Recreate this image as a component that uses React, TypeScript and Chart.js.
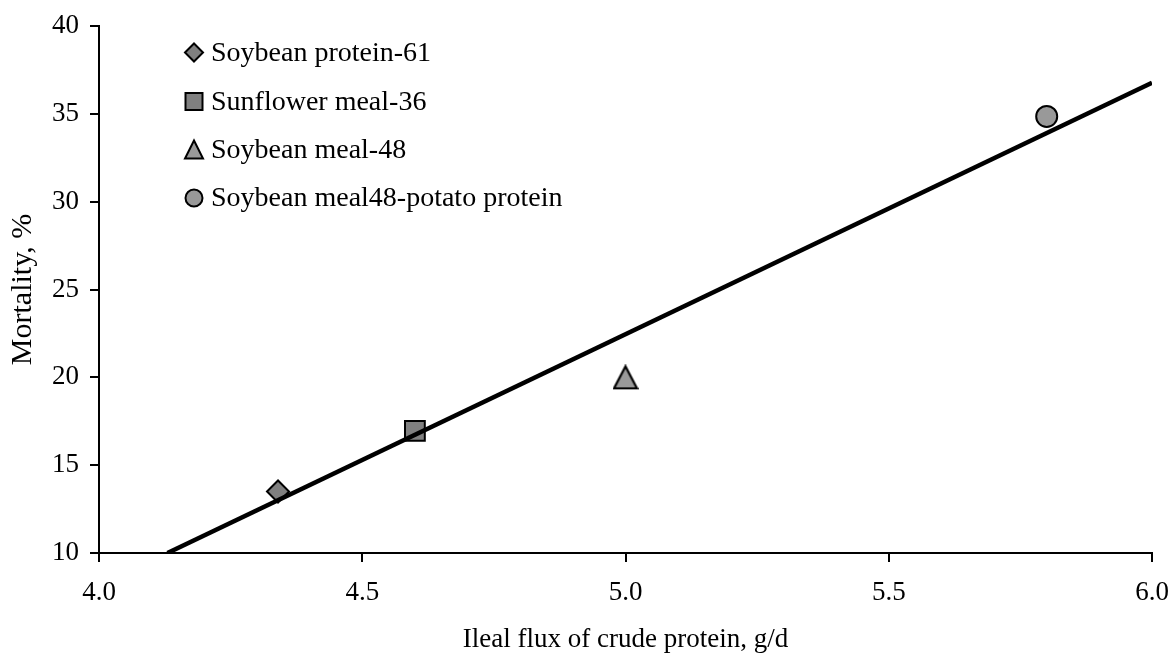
import React, { useEffect, useRef } from 'react';
import { Chart, registerables } from 'chart.js';

Chart.register(...registerables);

// ---- data ----
const seriesNames = [
  'Soybean protein-61',
  'Sunflower meal-36',
  'Soybean meal-48',
  'Soybean meal48-potato protein',
];
const seriesX = [4.34, 4.6, 5.0, 5.8];
const seriesY = [13.5, 16.95, 20.0, 34.85];
const seriesShapes = ['rectRot', 'rect', 'triangle', 'circle'];
const seriesFill = ['#808080', '#808080', '#999999', '#999999'];
const seriesRadius = [11, 14, 12, 10.5];

const trendX = [4.13, 6.0];
const trendY = [10, 36.77];

const xTickValues = [4.0, 4.5, 5.0, 5.5, 6.0];
const yTickValues = [10, 15, 20, 25, 30, 35, 40];

const xTitle = 'Ileal flux of crude protein, g/d';
const yTitle = 'Mortality, %';

const FONT = "'Liberation Serif', 'Times New Roman', serif";

function makeTriangle(fill: string) {
  const c = document.createElement('canvas');
  c.width = 26;
  c.height = 26;
  const g = c.getContext('2d')!;
  g.beginPath();
  g.moveTo(13, 2);
  g.lineTo(24.5, 24);
  g.lineTo(1.5, 24);
  g.closePath();
  g.fillStyle = fill;
  g.fill();
  g.lineWidth = 2.2;
  g.lineJoin = 'miter';
  g.strokeStyle = '#000';
  g.stroke();
  return c;
}

const legendPlugin = {
  id: 'innerLegend',
  afterDraw(chart: any) {
    const ctx = chart.ctx as CanvasRenderingContext2D;
    const mx = 194;
    const tx = 211;
    const rows = [52.5, 101.5, 150, 198];
    ctx.save();
    ctx.font = `28px ${FONT}`;
    ctx.textBaseline = 'middle';
    ctx.textAlign = 'left';
    seriesNames.forEach((name, i) => {
      const y = rows[i];
      ctx.beginPath();
      const shape = seriesShapes[i];
      if (shape === 'rectRot') {
        const r = 9;
        ctx.moveTo(mx - r, y);
        ctx.lineTo(mx, y - r);
        ctx.lineTo(mx + r, y);
        ctx.lineTo(mx, y + r);
        ctx.closePath();
      } else if (shape === 'rect') {
        ctx.rect(mx - 8.5, y - 8.5, 17, 17);
      } else if (shape === 'triangle') {
        ctx.moveTo(mx, y - 9.5);
        ctx.lineTo(mx + 9, y + 8.5);
        ctx.lineTo(mx - 9, y + 8.5);
        ctx.closePath();
      } else {
        ctx.arc(mx, y, 8.5, 0, Math.PI * 2);
      }
      ctx.fillStyle = seriesFill[i];
      ctx.fill();
      ctx.lineWidth = 2;
      ctx.strokeStyle = '#000';
      ctx.stroke();
      ctx.fillStyle = '#000';
      ctx.fillText(name, tx, y + 1);
    });
    ctx.restore();
  },
};

export default function App() {
  const ref = useRef<HTMLCanvasElement | null>(null);

  useEffect(() => {
    if (!ref.current) return;
    const datasets: any[] = [
      {
        type: 'line',
        label: 'trend',
        data: trendX.map((x, i) => ({ x, y: trendY[i] })),
        borderColor: '#000',
        borderWidth: 4.5,
        pointRadius: 0,
        showLine: true,
        fill: false,
        order: 0,
      },
    ];
    seriesNames.forEach((name, i) => {
      const shape = seriesShapes[i];
      datasets.push({
        type: 'scatter',
        label: name,
        data: [{ x: seriesX[i], y: seriesY[i] }],
        pointStyle: shape === 'triangle' ? makeTriangle(seriesFill[i]) : shape,
        pointRadius: seriesRadius[i],
        pointBackgroundColor: seriesFill[i],
        pointBorderColor: '#000',
        pointBorderWidth: 2,
        order: 1,
      });
    });

    const chart = new Chart(ref.current, {
      type: 'scatter',
      data: { datasets },
      plugins: [legendPlugin],
      options: {
        animation: false,
        responsive: false,
        maintainAspectRatio: false,
        layout: {
          autoPadding: false,
          padding: { left: 0, top: 26, right: 20, bottom: 0 },
        } as any,
        plugins: {
          legend: { display: false },
          tooltip: { enabled: false },
        },
        scales: {
          x: {
            type: 'linear',
            position: 'bottom',
            min: 4,
            max: 6,
            afterBuildTicks(scale: any) {
              scale.ticks = xTickValues.map((v) => ({ value: v }));
            },
            afterFit(scale: any) {
              scale.height = 100;
              scale.paddingLeft = 0;
              scale.paddingRight = 0;
            },
            ticks: {
              color: '#000',
              font: { family: FONT, size: 27 },
              padding: 15,
              maxRotation: 0,
              autoSkip: false,
              callback: (v: any) => Number(v).toFixed(1),
            },
            grid: {
              drawOnChartArea: false,
              drawTicks: true,
              tickLength: 9,
              color: '#000',
              lineWidth: 2,
            },
            border: { display: true, color: '#000', width: 2 },
            title: {
              display: true,
              text: xTitle,
              color: '#000',
              font: { family: FONT, size: 27, lineHeight: 1.0 },
              padding: { top: 0, bottom: 0 },
            },
          },
          y: {
            type: 'linear',
            position: 'left',
            min: 10,
            max: 40,
            afterBuildTicks(scale: any) {
              scale.ticks = yTickValues.map((v) => ({ value: v }));
            },
            afterFit(scale: any) {
              scale.width = 99;
              scale.paddingTop = 0;
              scale.paddingBottom = 0;
            },
            ticks: {
              color: '#000',
              font: { family: FONT, size: 27 },
              padding: 11,
              autoSkip: false,
              callback: (v: any) => String(v),
            },
            grid: {
              drawOnChartArea: false,
              drawTicks: true,
              tickLength: 9,
              color: '#000',
              lineWidth: 2,
            },
            border: { display: true, color: '#000', width: 2 },
            title: {
              display: true,
              text: yTitle,
              color: '#000',
              font: { family: FONT, size: 30, lineHeight: 1.0 },
              padding: { top: 8, bottom: 0 },
            },
          },
        },
      } as any,
    });
    return () => chart.destroy();
  }, []);

  return (
    <div style={{ position: 'absolute', left: 0, top: 0, width: 1172, height: 653, background: '#fff' }}>
      <canvas ref={ref} width={1172} height={653} style={{ display: 'block' }} />
    </div>
  );
}
